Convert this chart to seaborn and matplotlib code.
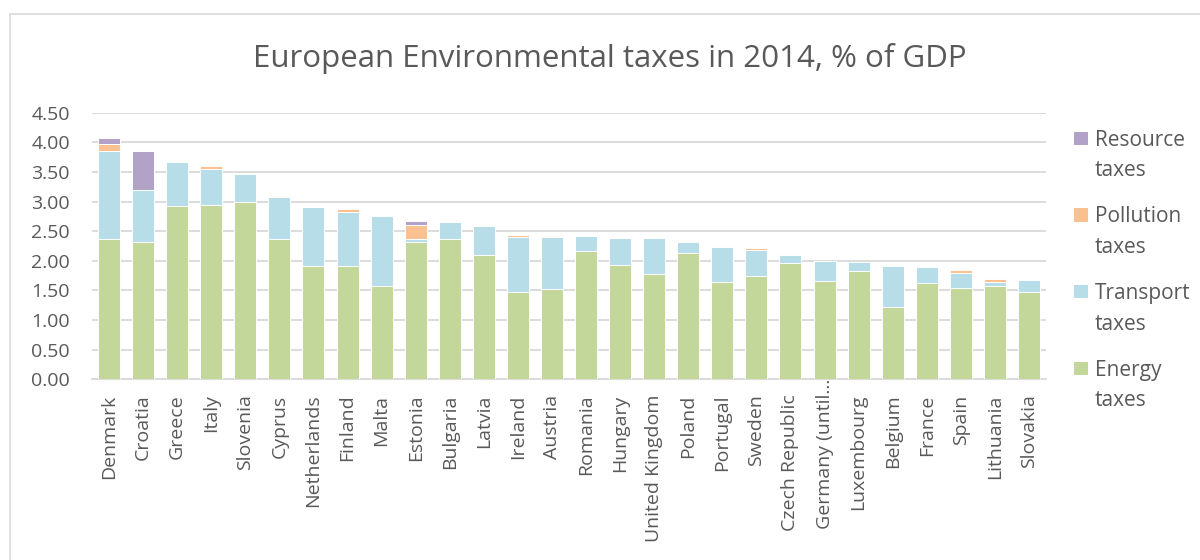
import numpy as np
import pandas as pd
import matplotlib
matplotlib.use("Agg")
import matplotlib.pyplot as plt
import matplotlib.transforms as mtransforms
from matplotlib.patches import Rectangle
import seaborn as sns

# Environmental tax revenue by type, 2014, % of GDP
countries = ["Denmark", "Croatia", "Greece", "Italy", "Slovenia", "Cyprus",
             "Netherlands", "Finland", "Malta", "Estonia", "Bulgaria", "Latvia",
             "Ireland", "Austria", "Romania", "Hungary", "United Kingdom",
             "Poland", "Portugal", "Sweden", "Czech Republic", "Germany (until\u2026",
             "Luxembourg", "Belgium", "France", "Spain", "Lithuania", "Slovakia"]
energy = [2.36, 2.32, 2.93, 2.95, 3.00, 2.36, 1.91, 1.92, 1.57, 2.31, 2.37, 2.09,
          1.48, 1.52, 2.16, 1.93, 1.78, 2.13, 1.65, 1.75, 1.96, 1.66, 1.83, 1.22,
          1.62, 1.54, 1.58, 1.48]
transport = [1.50, 0.87, 0.74, 0.60, 0.47, 0.72, 0.99, 0.91, 1.18, 0.06, 0.28, 0.49,
             0.92, 0.88, 0.26, 0.45, 0.60, 0.19, 0.59, 0.44, 0.14, 0.33, 0.15, 0.69,
             0.28, 0.25, 0.07, 0.20]
pollution = [0.12, 0.00, 0.00, 0.05, 0.00, 0.00, 0.00, 0.04, 0.00, 0.23, 0.00, 0.00,
             0.03, 0.02, 0.00, 0.00, 0.00, 0.00, 0.00, 0.02, 0.02, 0.00, 0.00, 0.00,
             0.00, 0.05, 0.045, 0.00]
resource = [0.09, 0.66, 0.00, 0.00, 0.00, 0.00, 0.00, 0.00, 0.00, 0.07, 0.00, 0.00,
            0.00, 0.01, 0.00, 0.00, 0.00, 0.00, 0.01, 0.00, 0.00, 0.00, 0.00, 0.00,
            0.00, 0.00, 0.00, 0.00]
series_names = ["Resource\ntaxes", "Pollution\ntaxes", "Transport\ntaxes", "Energy\ntaxes"]
yticks = [0.0, 0.5, 1.0, 1.5, 2.0, 2.5, 3.0, 3.5, 4.0, 4.5]

colors = {"energy": "#c4d79b", "transport": "#b7dde8",
          "pollution": "#fac090", "resource": "#b3a2c7"}
text_color = "#595959"
grid_color = "#d9d9d9"

sns.set_theme(style="white")
plt.rcParams["font.family"] = ["Open Sans", "DejaVu Sans"]

df = pd.DataFrame({"country": countries, "energy": energy, "transport": transport,
                   "pollution": pollution, "resource": resource})
df["lvl_energy"] = df["energy"]
df["lvl_transport"] = df["lvl_energy"] + df["transport"]
df["lvl_pollution"] = df["lvl_transport"] + df["pollution"]
df["lvl_resource"] = df["lvl_pollution"] + df["resource"]

fig = plt.figure(figsize=(12, 5.6), dpi=100)
ax = fig.add_axes([92 / 1200, 1 - 379.3 / 560, (1046 - 92) / 1200, (379.3 - 112.7) / 560])

# Stack drawn back to front: each layer is the cumulative total up to that series
for key in ["resource", "pollution", "transport", "energy"]:
    sns.barplot(data=df, x="country", y=f"lvl_{key}", order=countries,
                color=colors[key], saturation=1, width=0.646,
                edgecolor="white", linewidth=0.7, errorbar=None, ax=ax, zorder=3)

ax.set_xlim(-0.5, len(countries) - 0.5)
ax.set_ylim(0, 4.5)
ax.set_yticks(yticks)
ax.set_yticklabels([f"{v:.2f}" for v in yticks])
ax.set_xlabel("")
ax.set_ylabel("")
ax.yaxis.grid(True, color=grid_color, linewidth=1.3, zorder=0)
ax.set_axisbelow(True)
for side in ["top", "right", "left"]:
    ax.spines[side].set_visible(False)
ax.spines["bottom"].set_color(grid_color)
ax.spines["bottom"].set_linewidth(1.3)
ax.tick_params(axis="y", length=0, pad=16, labelsize=14, labelcolor=text_color)
ax.tick_params(axis="x", length=0, pad=11, labelsize=14, labelcolor=text_color)
for lbl in ax.get_xticklabels():
    lbl.set_rotation(90)
    lbl.set_ha("center")
    lbl.set_va("top")
    if lbl.get_text().startswith("Germany"):
        lbl.set_transform(lbl.get_transform() +
                          mtransforms.ScaledTranslation(0, 16 / 100, fig.dpi_scale_trans))

# Chart title
fig.text(610 / 1200, 1 - 67 / 560, "European Environmental taxes in 2014, % of GDP",
         ha="center", va="baseline", fontsize=22.5, color=text_color)

# Legend: swatch beside the first line of each two-line label
legend_keys = ["resource", "pollution", "transport", "energy"]
for i, (key, name) in enumerate(zip(legend_keys, series_names)):
    y_top = 129.5 + 76.7 * i
    fig.add_artist(Rectangle((1074 / 1200, 1 - (y_top + 15.5) / 560), 14 / 1200, 13.3 / 560,
                             transform=fig.transFigure, facecolor=colors[key],
                             edgecolor="none"))
    fig.text(1095 / 1200, 1 - y_top / 560, name, ha="left", va="top",
             fontsize=15, color=text_color, linespacing=1.6)

# Chart frame
fig.add_artist(Rectangle((9.5 / 1200, -0.2), 1.2, 1.2 - 14 / 560,
                         transform=fig.transFigure, facecolor="none",
                         edgecolor=grid_color, linewidth=1.2))

fig.savefig("out.png", dpi=100)
